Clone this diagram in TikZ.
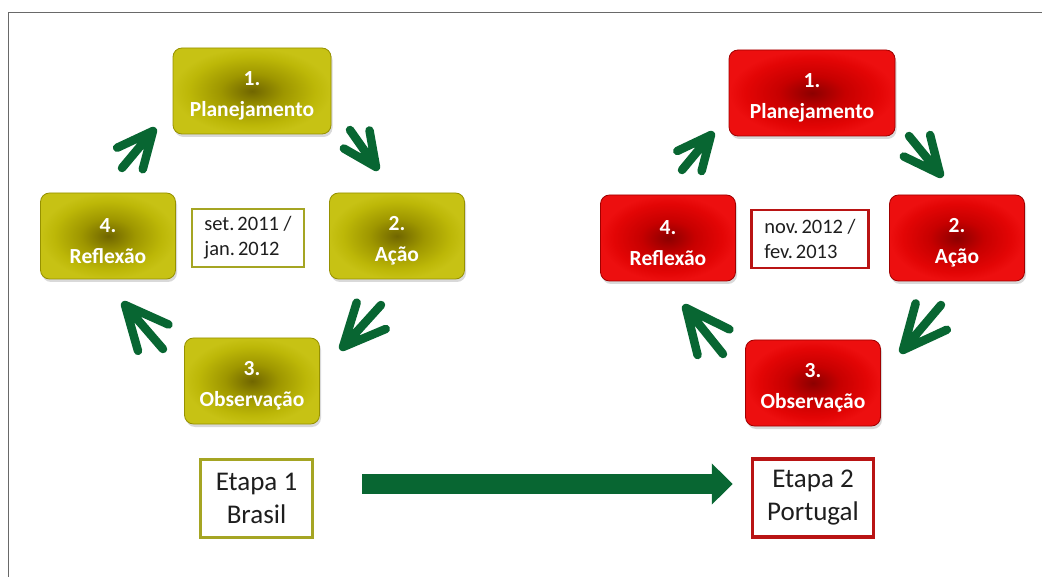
\documentclass[tikz,border=0pt]{standalone}
\usepackage{fontspec}
\setmainfont{Carlito}
\usetikzlibrary{calc,shadows,arrows.meta}
\definecolor{olivebd}{RGB}{150,145,0}
\definecolor{redbd}{RGB}{160,0,0}
\definecolor{oliveln}{RGB}{165,165,35}
\definecolor{redln}{RGB}{185,20,20}
\definecolor{arrowgreen}{RGB}{8,102,50}
\definecolor{textdark}{RGB}{30,30,30}
\definecolor{framegray}{RGB}{105,105,105}
\pgfdeclareradialshading{olivesh}{\pgfpoint{0bp}{0bp}}{rgb(0bp)=(0.44,0.40,0); rgb(10bp)=(0.62,0.59,0.0); rgb(20bp)=(0.74,0.72,0.03); rgb(25bp)=(0.78,0.76,0.08); rgb(50bp)=(0.78,0.76,0.08)}
\pgfdeclareradialshading{redsh}{\pgfpoint{0bp}{0bp}}{rgb(0bp)=(0.55,0,0); rgb(10bp)=(0.78,0,0); rgb(20bp)=(0.89,0.02,0.02); rgb(25bp)=(0.93,0.06,0.06); rgb(50bp)=(0.93,0.06,0.06)}
\newcommand\cycarrow[2]{\draw[cyc] (#1) -- (#2) ($(#2)!0.82!25:(#1)$) -- (#2) -- ($(#2)!0.82!-25:(#1)$);}
\newcommand\nsp{\hspace{3pt}}
\newcommand\topgap{\rule{0pt}{24pt}}
\tikzset{
  stage/.style={rounded corners=9pt, minimum height=86pt, minimum width=135pt, align=center, text=white,
    font=\fontsize{21.5}{31}\selectfont\bfseries, line width=0.8pt,
    drop shadow={opacity=0.3, shadow xshift=1.5pt, shadow yshift=-3pt}},
  olbox/.style={stage, shading=olivesh, draw=olivebd},
  rdbox/.style={stage, shading=redsh, draw=redbd},
  datebox/.style={draw, line width=2.8pt, fill=white, minimum width=112pt, minimum height=58pt, align=left,
    font=\fontsize{20.5}{25}\selectfont, text=textdark},
  etbox/.style={draw, line width=3.5pt, fill=white, align=center, minimum height=78pt,
    font=\fontsize{27}{33}\selectfont, text=textdark},
  cyc/.style={draw=arrowgreen, line width=8.5pt, line cap=round, line join=round}
}
\begin{document}
\begin{tikzpicture}[x=1pt,y=-1pt]
\useasboundingbox (0,0) rectangle (1042,577);
\draw[framegray, line width=1.5pt] (8.5,577) -- (8.5,12.5) -- (1042,12.5);

% left cycle
\node[olbox, minimum width=158pt] (L1) at (252,91) {\topgap1.\\Planejamento};
\node[olbox] (L2) at (397,236) {\topgap2.\\Ação};
\node[olbox] (L3) at (252,381) {\topgap3.\\Observação};
\node[olbox] (L4) at (108,236) {\topgap4.\\Reflexão};
\node[datebox, draw=oliveln] (Ld) at (248,238) {set.\nsp2011 /\\jan.\nsp2012};

% right cycle
\node[rdbox, minimum width=166pt] (R1) at (812,93) {\topgap1.\\Planejamento};
\node[rdbox] (R2) at (957,238) {\topgap2.\\Ação};
\node[rdbox] (R3) at (813,383) {\topgap3.\\Observação};
\node[rdbox] (R4) at (668,238) {\topgap4.\\Reflexão};
\node[datebox, draw=redln, minimum width=117pt] (Rd) at (810,239) {nov.\nsp2012 /\\fev.\nsp2013};

% cycle arrows (left)
\coordinate (la1t) at (122,168); \coordinate (la1h) at (153,131);
\coordinate (la2t) at (350,130); \coordinate (la2h) at (376,167);
\coordinate (la3t) at (381,305); \coordinate (la3h) at (343,347);
\coordinate (la4t) at (163,349); \coordinate (la4h) at (125,305);
\cycarrow{la1t}{la1h}
\cycarrow{la2t}{la2h}
\cycarrow{la3t}{la3h}
\cycarrow{la4t}{la4h}

% cycle arrows (right)
\coordinate (ra1t) at (682,170); \coordinate (ra1h) at (711,135);
\coordinate (ra2t) at (909,136); \coordinate (ra2h) at (940,174);
\coordinate (ra3t) at (941,305); \coordinate (ra3h) at (903,350);
\coordinate (ra4t) at (723,354); \coordinate (ra4h) at (686,308);
\cycarrow{ra1t}{ra1h}
\cycarrow{ra2t}{ra2h}
\cycarrow{ra3t}{ra3h}
\cycarrow{ra4t}{ra4h}

% stages
\node[etbox, draw=oliveln, minimum width=112pt] (E1) at (256.5,498.5) {Etapa 1\\Brasil};
\node[etbox, draw=redln, minimum width=121pt] (E2) at (813,498) {Etapa 2\\Portugal};
\coordinate (bs) at ($(E1.east)+(48,-14.5)$);
\coordinate (be) at ($(E2.west)+(-18,-14)$);
\draw[arrowgreen, line width=20pt, -{Triangle[length=21pt,width=40pt]}] (bs) -- (be);
\end{tikzpicture}
\end{document}
